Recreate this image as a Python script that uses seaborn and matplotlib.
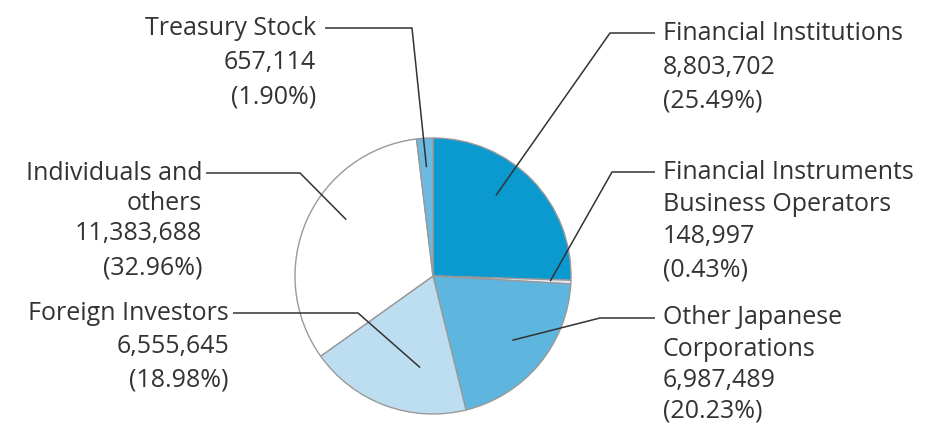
import matplotlib
matplotlib.use("Agg")
import matplotlib.pyplot as plt
import seaborn as sns
import numpy as np

# ---- data ----
categories = ["Financial Institutions", "Financial Instruments\nBusiness Operators",
              "Other Japanese\nCorporations", "Foreign Investors",
              "Individuals and\nothers", "Treasury Stock"]
shares = [8803702, 148997, 6987489, 6555645, 11383688, 657114]
percent_labels = ["(25.49%)", "(0.43%)", "(20.23%)", "(18.98%)", "(32.96%)", "(1.90%)"]
colors = ["#0a9ad0", "#e4ebef", "#5eb6df", "#bddef0", "#ffffff", "#6cb9e2"]

sns.set_theme(style="white")
plt.rcParams["font.family"] = ["Open Sans", "DejaVu Sans"]

W, H = 933, 425
fig = plt.figure(figsize=(W / 100, H / 100), dpi=100)
ax = fig.add_axes([0, 0, 1, 1])

def Y(y):
    return H - y

cx, cy, R = 433, 276, 138
wedges, _ = ax.pie(shares, colors=colors, startangle=90, counterclock=False,
                   center=(cx, Y(cy)), radius=R, frame=True,
                   wedgeprops=dict(edgecolor="#999999", linewidth=1.0))
ax.set_xlim(0, W)
ax.set_ylim(0, H)
ax.set_aspect("equal")
ax.axis("off")

def fmt(v):
    return f"{v:,}"

txt_color = "#333333"
fs = 18
line_kw = dict(color="#333333", lw=1.1, solid_capstyle="butt")

layout = [
    dict(r=0.74, bend=(610, 33), end=655, tx=663, ty=[33, 67, 101], ha="left"),
    dict(r=0.85, bend=(612, 172), end=655, tx=663, ty=[172, 204, 236, 270], ha="left"),
    dict(r=0.74, bend=(600, 318), end=655, tx=663, ty=[318, 349, 380, 411], ha="left"),
    dict(r=0.67, bend=(358, 313), end=233, tx=229, ty=[313, 347, 380], ha="right"),
    dict(r=0.75, bend=(300, 173), end=206, tx=202, ty=[173, 203, 233, 268], ha="right"),
    dict(r=0.79, bend=(412, 28), end=325, tx=316, ty=[28, 62, 97], ha="right"),
]
anchor_theta = [52, None, -39, -98, 147, None]

for i, (w, lay) in enumerate(zip(wedges, layout)):
    th = anchor_theta[i] if anchor_theta[i] is not None else (w.theta1 + w.theta2) / 2
    ax_x = cx + lay["r"] * R * np.cos(np.radians(th))
    ax_y = Y(cy) + lay["r"] * R * np.sin(np.radians(th))
    bx, by = lay["bend"]
    ax.plot([ax_x, bx, lay["end"]], [ax_y, Y(by), Y(by)], **line_kw)
    lines = categories[i].split("\n") + [fmt(shares[i]), percent_labels[i]]
    for t, yy in zip(lines, lay["ty"]):
        ax.text(lay["tx"], Y(yy), t, ha=lay["ha"], va="center",
                fontsize=fs, color=txt_color)

fig.savefig("out.png", dpi=100)
